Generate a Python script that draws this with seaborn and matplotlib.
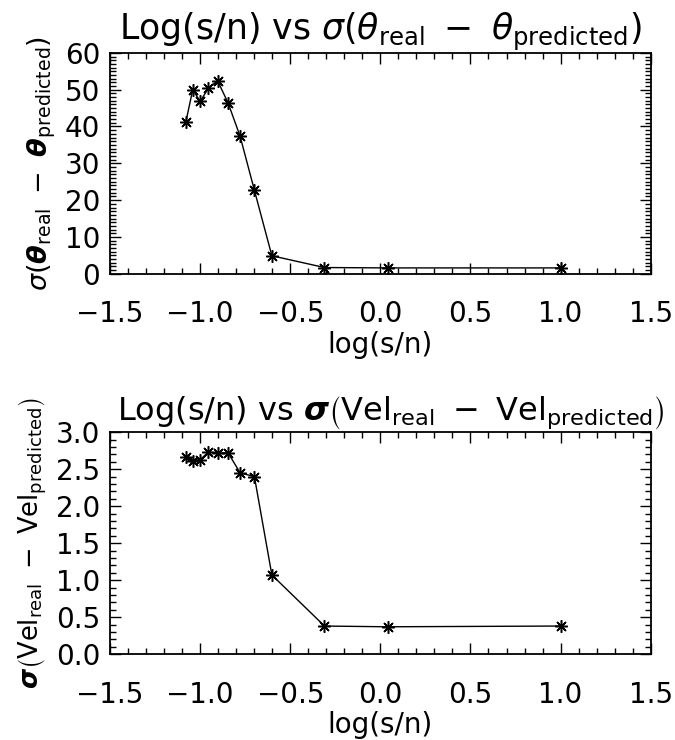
import matplotlib
matplotlib.use("Agg")
import matplotlib.pyplot as plt
import seaborn as sns
import numpy as np
import pandas as pd
from matplotlib.ticker import MultipleLocator

# data
log_sn = [-1.079, -1.041, -1.0, -0.954, -0.903, -0.845, -0.778, -0.699, -0.602, -0.31, 0.04, 1.0]
sigma_theta = [41.3, 50.0, 46.8, 50.4, 52.4, 46.4, 37.3, 22.7, 4.9, 1.7, 1.6, 1.6]
sigma_vel = [2.67, 2.61, 2.63, 2.73, 2.72, 2.72, 2.45, 2.40, 1.07, 0.38, 0.37, 0.38]
x_ticks = [-1.5, -1.0, -0.5, 0.0, 0.5, 1.0, 1.5]
y1_ticks = [0, 10, 20, 30, 40, 50, 60]
y2_ticks = [0.0, 0.5, 1.0, 1.5, 2.0, 2.5, 3.0]

sns.set_style("ticks")
plt.rcParams['font.family'] = ['DejaVu Sans']
plt.rcParams['mathtext.fontset'] = 'dejavusans'
for k in ['text.color', 'axes.labelcolor', 'xtick.color', 'ytick.color', 'axes.edgecolor']:
    plt.rcParams[k] = 'black'

df = pd.DataFrame({"log_sn": log_sn, "theta": sigma_theta, "vel": sigma_vel})

fig = plt.figure(figsize=(6.75, 7.4), dpi=100)
ax1 = fig.add_axes([0.163, 0.630, 0.801, 0.2986])
ax2 = fig.add_axes([0.163, 0.116, 0.801, 0.300])

marker = (8, 2, 0)
for ax, col in [(ax1, "theta"), (ax2, "vel")]:
    sns.lineplot(data=df, x="log_sn", y=col, ax=ax, color="black", lw=1.0,
                 marker=marker, markersize=9, markeredgewidth=1.1,
                 markeredgecolor="black")

def style(ax, yticks, yminor):
    ax.set_xlim(-1.5, 1.5)
    ax.set_ylim(yticks[0], yticks[-1])
    ax.set_xticks(x_ticks)
    ax.set_xticklabels([f"{t:.1f}".replace("-", "\u2212") for t in x_ticks])
    ax.set_yticks(yticks)
    ax.xaxis.set_minor_locator(MultipleLocator(0.1))
    ax.yaxis.set_minor_locator(MultipleLocator(yminor))
    ax.tick_params(which="both", direction="in", top=True, right=True,
                   labelsize=20, width=1.0, color="black")
    ax.tick_params(axis="x", which="major", pad=19)
    ax.tick_params(axis="y", which="major", pad=7)
    ax.tick_params(which="major", length=8)
    ax.tick_params(which="minor", length=4)
    for s in ax.spines.values():
        s.set_linewidth(1.3)
        s.set_color("black")
    ax.set_xlabel("log(s/n)", fontsize=20, labelpad=2)

style(ax1, y1_ticks, 1)
ax1.set_yticklabels([str(t) for t in y1_ticks])
style(ax2, y2_ticks, 0.1)
ax2.set_yticklabels([f"{t:.1f}" for t in y2_ticks])

ax1.set_title(r'Log(s/n) vs $\sigma(\theta_{\rm real}\ -\ \theta_{\rm predicted})$',
              fontsize=25, pad=8, x=0.5)
ax1.set_ylabel(r'$\sigma(\boldsymbol{\theta}_{\rm real}\ -\ \boldsymbol{\theta}_{\rm predicted})$',
               fontsize=19.5, labelpad=5)
ax2.set_title(r'Log(s/n) vs $\boldsymbol{\sigma}\left({\rm Vel}_{\rm real}\ -\ {\rm Vel}_{\rm predicted}\right)$',
              fontsize=23, pad=8, x=0.52)
ax2.set_ylabel(r'$\boldsymbol{\sigma}\left({\rm Vel}_{\rm real}\ -\ {\rm Vel}_{\rm predicted}\right)$',
               fontsize=18.5, labelpad=5)

fig.savefig("out.png", dpi=100, facecolor="white")
